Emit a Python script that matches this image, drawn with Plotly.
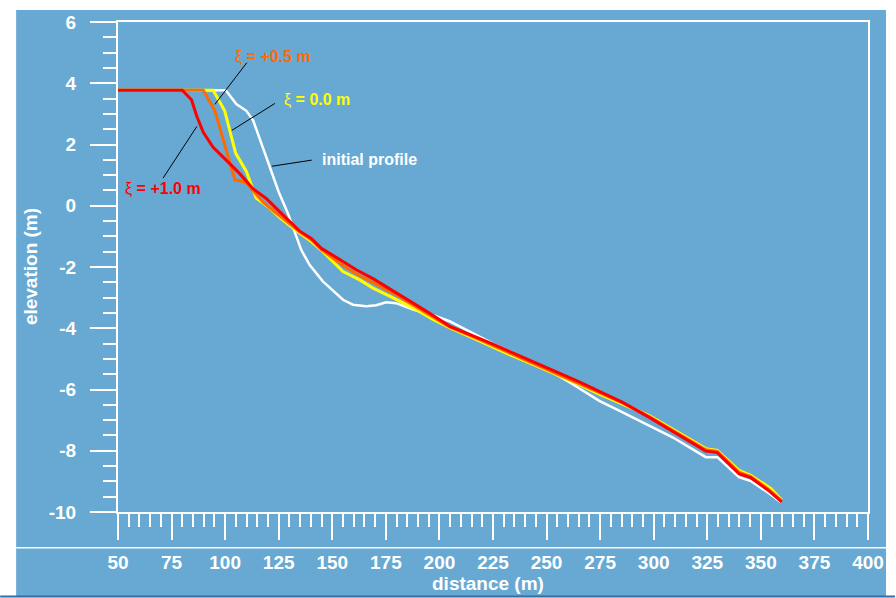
import plotly.graph_objects as go

# Cross-shore profiles: distance (m) vs elevation (m)
x_initial = [50, 100.3, 105.2, 109.9, 113.1, 116.2, 120.8, 125.0, 129.3, 133.1, 135.5, 139.4,
             145.6, 155.0, 159.6, 165.9, 170.5, 175.2, 179.8, 187.7, 198.4, 204.7, 215, 225,
             237, 250, 262, 274.6, 285.5, 297.9, 308.8, 324.3, 329.7, 339.8, 345.3, 353.8, 359.2]
y_initial = [3.77, 3.77, 3.32, 3.10, 2.78, 2.18, 1.32, 0.45, -0.25, -0.96, -1.44, -1.93,
             -2.47, -3.07, -3.23, -3.28, -3.25, -3.15, -3.18, -3.39, -3.61, -3.77, -4.14, -4.50,
             -4.90, -5.32, -5.82, -6.37, -6.75, -7.18, -7.56, -8.21, -8.21, -8.86, -8.99, -9.39, -9.67]

x_xi00 = [50, 94.4, 99.8, 104.9, 109.9, 114.5, 120.2, 125.5, 130.9, 134.8, 140.2, 145.6,
          155.0, 162.8, 169.0, 178.4, 187.7, 197.0, 204.7, 215, 225, 235, 245, 255, 265,
          274.6, 285.5, 297.9, 308.8, 324.3, 329.7, 339.8, 345.3, 354.6, 359.7]
y_xi00 = [3.77, 3.77, 3.10, 1.72, 1.12, 0.25, -0.04, -0.39, -0.69, -0.90, -1.17, -1.50,
          -2.15, -2.42, -2.69, -3.01, -3.34, -3.71, -3.98, -4.30, -4.62, -4.93, -5.22, -5.52, -5.83,
          -6.15, -6.48, -6.85, -7.29, -7.93, -7.99, -8.64, -8.80, -9.23, -9.61]

x_xi05 = [50, 89.8, 95.2, 99.8, 104.5, 109.5, 113.1, 117.7, 123.1, 134.8, 140.2, 145.0,
          155.0, 161.2, 169.0, 181.4, 193.8, 204.7, 215, 225, 235, 245, 255, 265,
          274.6, 285.5, 297.9, 308.8, 324.3, 329.7, 339.8, 345.3, 353.8, 359.7]
y_xi05 = [3.77, 3.77, 3.10, 1.95, 0.85, 0.77, 0.50, 0.12, -0.20, -0.85, -1.11, -1.44,
          -1.95, -2.22, -2.51, -2.97, -3.50, -3.96, -4.26, -4.57, -4.88, -5.18, -5.48, -5.79,
          -6.10, -6.44, -6.88, -7.32, -7.97, -8.02, -8.70, -8.84, -9.27, -9.64]

x_xi10 = [50, 80.0, 84.3, 86.7, 89.8, 94.4, 100.6, 106.9, 113.1, 119.3, 125.5, 134.8,
          140.2, 144.9, 155.0, 161.2, 169.0, 181.4, 193.8, 204.7, 215, 225, 235, 245, 255, 265,
          274.6, 285.5, 297.9, 308.8, 324.3, 329.7, 339.8, 345.3, 353.8, 359.7]
y_xi10 = [3.77, 3.77, 3.46, 2.94, 2.40, 1.91, 1.48, 1.04, 0.55, 0.23, -0.20, -0.83,
          -1.07, -1.39, -1.82, -2.09, -2.38, -2.90, -3.44, -3.93, -4.22, -4.52, -4.83, -5.13, -5.43, -5.74,
          -6.06, -6.42, -6.91, -7.36, -8.01, -8.06, -8.75, -8.88, -9.31, -9.67]

x_ticks = [50, 75, 100, 125, 150, 175, 200, 225, 250, 275, 300, 325, 350, 375, 400]
y_ticks = [-10, -8, -6, -4, -2, 0, 2, 4, 6]

BG = "#67a9d2"
RED = "#ff0000"
ORANGE = "#ff6a00"
YELLOW = "#ffff00"
FONT = "Liberation Sans, Arial, sans-serif"

W, H = 896, 598
L, R, T, B = 118, 27, 19, 86
PW, PH = W - L - R, H - T - B


def px(xp):
    return (xp - L) / PW


def py(yp):
    return (H - B - yp) / PH


fig = go.Figure()
fig.add_trace(go.Scatter(x=x_initial, y=y_initial, mode="lines",
                         line=dict(color="white", width=2.5), hoverinfo="skip"))
fig.add_trace(go.Scatter(x=x_xi00, y=y_xi00, mode="lines",
                         line=dict(color=YELLOW, width=3), hoverinfo="skip"))
fig.add_trace(go.Scatter(x=x_xi05, y=y_xi05, mode="lines",
                         line=dict(color=ORANGE, width=3), hoverinfo="skip"))
fig.add_trace(go.Scatter(x=x_xi10, y=y_xi10, mode="lines",
                         line=dict(color=RED, width=3), hoverinfo="skip"))

tickfont = dict(family=FONT, size=19, color="white", weight="bold")
axis_common = dict(showgrid=False, zeroline=False, showline=True, linecolor="white",
                   linewidth=2, mirror=True, ticks="outside", ticklen=26, tickwidth=2,
                   tickcolor="white", tickfont=tickfont)

fig.update_xaxes(range=[50, 400], tickmode="array", tickvals=x_ticks,
                 ticktext=[str(v) for v in x_ticks], ticklabelstandoff=6,
                 minor=dict(dtick=5, tick0=50, ticks="outside", ticklen=13, tickwidth=2,
                            tickcolor="white", showgrid=False),
                 **axis_common)
fig.update_yaxes(range=[-10, 6], tickmode="array", tickvals=y_ticks,
                 ticktext=[str(v) for v in y_ticks], ticklabelstandoff=10,
                 minor=dict(dtick=0.5, tick0=0, ticks="outside", ticklen=13, tickwidth=2,
                            tickcolor="white", showgrid=False),
                 **axis_common)

shapes = [
    dict(type="rect", xref="paper", yref="paper", x0=px(16), x1=px(887), y0=py(597), y1=py(7),
         fillcolor=BG, line=dict(width=0), layer="below"),
    dict(type="line", xref="paper", yref="paper", x0=px(16), x1=px(887), y0=py(548), y1=py(548),
         line=dict(color="white", width=1.5)),
    dict(type="line", xref="paper", yref="paper", x0=px(0), x1=px(896), y0=py(597), y1=py(597),
         line=dict(color="#2f6ea6", width=2)),
    # leader lines from labels to profiles
    dict(type="line", x0=110.1, y0=4.67, x1=95.2, y1=3.31, line=dict(color="black", width=1)),
    dict(type="line", x0=123.2, y0=3.34, x1=103.1, y1=2.46, line=dict(color="black", width=1)),
    dict(type="line", x0=140.4, y0=1.49, x1=121.8, y1=1.29, line=dict(color="black", width=1)),
    dict(type="line", x0=71.0, y0=0.90, x1=86.8, y1=2.59, line=dict(color="black", width=1)),
]

lab_font = dict(family=FONT, size=16)
annotations = [
    dict(x=103.6, y=4.86, text="ξ <b>= +0.5 m</b>", font=dict(color=ORANGE, **lab_font)),
    dict(x=126.4, y=3.44, text="ξ <b>= 0.0 m</b>", font=dict(color=YELLOW, **lab_font)),
    dict(x=144.1, y=1.52, text="<b>initial profile</b>", font=dict(color="white", **lab_font)),
    dict(x=52.3, y=0.55, text="ξ <b>= +1.0 m</b>", font=dict(color=RED, **lab_font)),
]
for a in annotations:
    a.update(xref="x", yref="y", xanchor="left", yanchor="middle", showarrow=False)

annotations += [
    dict(xref="paper", yref="paper", x=px(30), y=0.5, text="elevation (m)", textangle=-90,
         showarrow=False, xanchor="center", yanchor="middle",
         font=dict(family=FONT, size=19, color="white", weight="bold")),
    dict(xref="paper", yref="paper", x=px(488), y=py(584), text="distance (m)",
         showarrow=False, xanchor="center", yanchor="middle", borderpad=0,
         font=dict(family=FONT, size=19, color="white", weight="bold")),
]

fig.update_layout(
    width=W, height=H,
    margin=dict(l=L, r=R, t=T, b=B, pad=0),
    paper_bgcolor="white",
    plot_bgcolor="rgba(0,0,0,0)",
    showlegend=False,
    shapes=shapes,
    annotations=annotations,
)

fig.write_html("out.html")
